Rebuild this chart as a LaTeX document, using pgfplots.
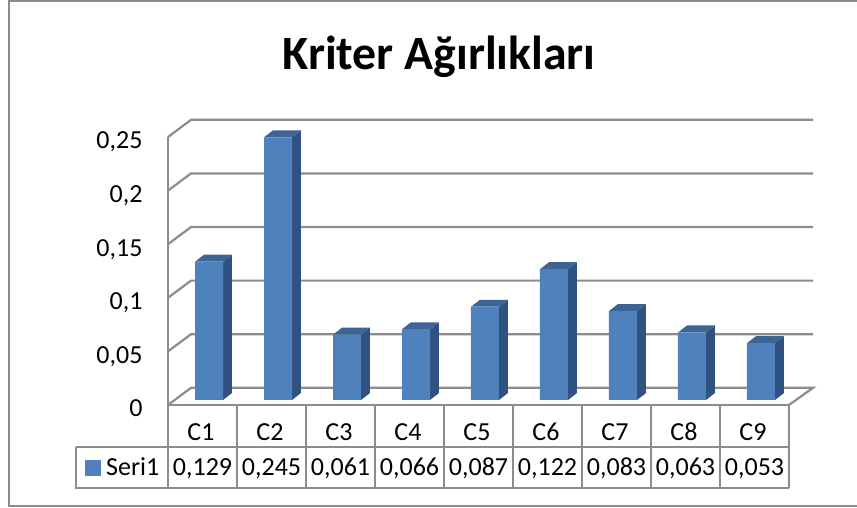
\documentclass[border=0pt]{standalone}
\usepackage{fontspec}
\setmainfont[Numbers=Lining]{Carlito}
\usepackage{pgfplots}
\pgfplotsset{compat=1.18}
\definecolor{gridgray}{HTML}{8C8C8C}
\definecolor{barfront}{HTML}{4F81BD}
\definecolor{barside}{HTML}{2F5280}
\definecolor{bartop}{HTML}{3C6595}
\pgfplotsset{
  wall/.style={draw=gridgray, line width=2.2pt, forget plot},
  face/.style={draw=none, fill=#1, xshift=6.5pt, yshift=5pt, forget plot},
}
\begin{document}
\begin{tikzpicture}[x=1pt,y=1pt]
\path[use as bounding box] (0,0) rectangle (857,508);
% outer chart frame, open on the right
\draw[gridgray, line width=2.2pt] (857,507) -- (9,507) -- (9,2) -- (857,2);
\node[font=\bfseries\fontsize{47.8}{48}\selectfont, text=black] at (439,451) {Kriter Ağırlıkları};
\begin{axis}[
  at={(168pt,103pt)}, anchor=origin,
  scale only axis, width=621pt, height=268pt,
  xmin=0.5, xmax=9.5, ymin=0, ymax=0.25,
  axis lines=left, axis line style={-, draw=gridgray, line width=2.2pt},
  clip=false,
  xtick={1,...,9}, xticklabels={C1,C2,C3,C4,C5,C6,C7,C8,C9},
  ytick={0,0.05,0.1,0.15,0.2,0.25},
  yticklabels={0,{0,05},{0,1},{0,15},{0,2},{0,25}},
  major tick length=0pt,
  tick label style={font=\fontsize{26}{26}\selectfont},
  xticklabel style={yshift=-14.5pt, xshift=-1.5pt, text height=17pt, text depth=0pt},
  yticklabel style={xshift=-22pt, yshift=-5pt, text height=17pt, text depth=3pt},
]
% back wall and side wall
\addplot[wall] coordinates {(0.5,0) (0.833,0.016) (9.848,0.016) (9.5,0)};
\addplot[wall] coordinates {(0.5,0.05) (0.833,0.066) (9.848,0.066)};
\addplot[wall] coordinates {(0.5,0.1) (0.833,0.116) (9.848,0.116)};
\addplot[wall] coordinates {(0.5,0.15) (0.833,0.166) (9.848,0.166)};
\addplot[wall] coordinates {(0.5,0.2) (0.833,0.216) (9.848,0.216)};
\addplot[wall] coordinates {(0.5,0.25) (0.833,0.266) (9.848,0.266)};
% bar sides
\addplot[face=barside] coordinates {(1.203,0) (1.333,0.0065) (1.333,0.1355) (1.203,0.129)} --cycle;
\addplot[face=barside] coordinates {(2.203,0) (2.333,0.0065) (2.333,0.2515) (2.203,0.245)} --cycle;
\addplot[face=barside] coordinates {(3.203,0) (3.333,0.0065) (3.333,0.0675) (3.203,0.061)} --cycle;
\addplot[face=barside] coordinates {(4.203,0) (4.333,0.0065) (4.333,0.0725) (4.203,0.066)} --cycle;
\addplot[face=barside] coordinates {(5.203,0) (5.333,0.0065) (5.333,0.0935) (5.203,0.087)} --cycle;
\addplot[face=barside] coordinates {(6.203,0) (6.333,0.0065) (6.333,0.1285) (6.203,0.122)} --cycle;
\addplot[face=barside] coordinates {(7.203,0) (7.333,0.0065) (7.333,0.0895) (7.203,0.083)} --cycle;
\addplot[face=barside] coordinates {(8.203,0) (8.333,0.0065) (8.333,0.0695) (8.203,0.063)} --cycle;
\addplot[face=barside] coordinates {(9.203,0) (9.333,0.0065) (9.333,0.0595) (9.203,0.053)} --cycle;
% bar tops
\addplot[face=bartop] coordinates {(0.797,0.129) (0.927,0.1355) (1.333,0.1355) (1.203,0.129)} --cycle;
\addplot[face=bartop] coordinates {(1.797,0.245) (1.927,0.2515) (2.333,0.2515) (2.203,0.245)} --cycle;
\addplot[face=bartop] coordinates {(2.797,0.061) (2.927,0.0675) (3.333,0.0675) (3.203,0.061)} --cycle;
\addplot[face=bartop] coordinates {(3.797,0.066) (3.927,0.0725) (4.333,0.0725) (4.203,0.066)} --cycle;
\addplot[face=bartop] coordinates {(4.797,0.087) (4.927,0.0935) (5.333,0.0935) (5.203,0.087)} --cycle;
\addplot[face=bartop] coordinates {(5.797,0.122) (5.927,0.1285) (6.333,0.1285) (6.203,0.122)} --cycle;
\addplot[face=bartop] coordinates {(6.797,0.083) (6.927,0.0895) (7.333,0.0895) (7.203,0.083)} --cycle;
\addplot[face=bartop] coordinates {(7.797,0.063) (7.927,0.0695) (8.333,0.0695) (8.203,0.063)} --cycle;
\addplot[face=bartop] coordinates {(8.797,0.053) (8.927,0.0595) (9.333,0.0595) (9.203,0.053)} --cycle;
% bar fronts
\addplot[ybar, bar width=28pt, bar shift=0pt, draw=none, fill=barfront, xshift=6.5pt, yshift=5pt]
  coordinates {(1,0.129) (2,0.245) (3,0.061) (4,0.066) (5,0.087) (6,0.122) (7,0.083) (8,0.063) (9,0.053)};
% data table
\addplot[wall] coordinates {(-0.833,-0.0392) (9.5,-0.0392)};
\addplot[wall] coordinates {(-0.833,-0.0392) (-0.833,-0.0774) (9.5,-0.0774)};
\addplot[wall] coordinates {(0.5,0) (0.5,-0.0774)};
\addplot[wall] coordinates {(1.5,0) (1.5,-0.0774)};
\addplot[wall] coordinates {(2.5,0) (2.5,-0.0774)};
\addplot[wall] coordinates {(3.5,0) (3.5,-0.0774)};
\addplot[wall] coordinates {(4.5,0) (4.5,-0.0774)};
\addplot[wall] coordinates {(5.5,0) (5.5,-0.0774)};
\addplot[wall] coordinates {(6.5,0) (6.5,-0.0774)};
\addplot[wall] coordinates {(7.5,0) (7.5,-0.0774)};
\addplot[wall] coordinates {(8.5,0) (8.5,-0.0774)};
\addplot[wall] coordinates {(9.5,0) (9.5,-0.0774)};
\addplot[only marks, mark=square*, mark size=7.5pt, color=barfront, forget plot] coordinates {(-0.594,-0.0583)};
\begin{scope}[every node/.style={font=\fontsize{26}{26}\selectfont, inner sep=0pt, text height=17pt, text depth=3pt}]
\node[anchor=west] at (axis cs:-0.3986,-0.0595) {Seri1};
\node at (axis cs:1,-0.0595) {0,129};
\node at (axis cs:2,-0.0595) {0,245};
\node at (axis cs:3,-0.0595) {0,061};
\node at (axis cs:4,-0.0595) {0,066};
\node at (axis cs:5,-0.0595) {0,087};
\node at (axis cs:6,-0.0595) {0,122};
\node at (axis cs:7,-0.0595) {0,083};
\node at (axis cs:8,-0.0595) {0,063};
\node at (axis cs:9,-0.0595) {0,053};
\end{scope}
\end{axis}
\end{tikzpicture}
\end{document}
